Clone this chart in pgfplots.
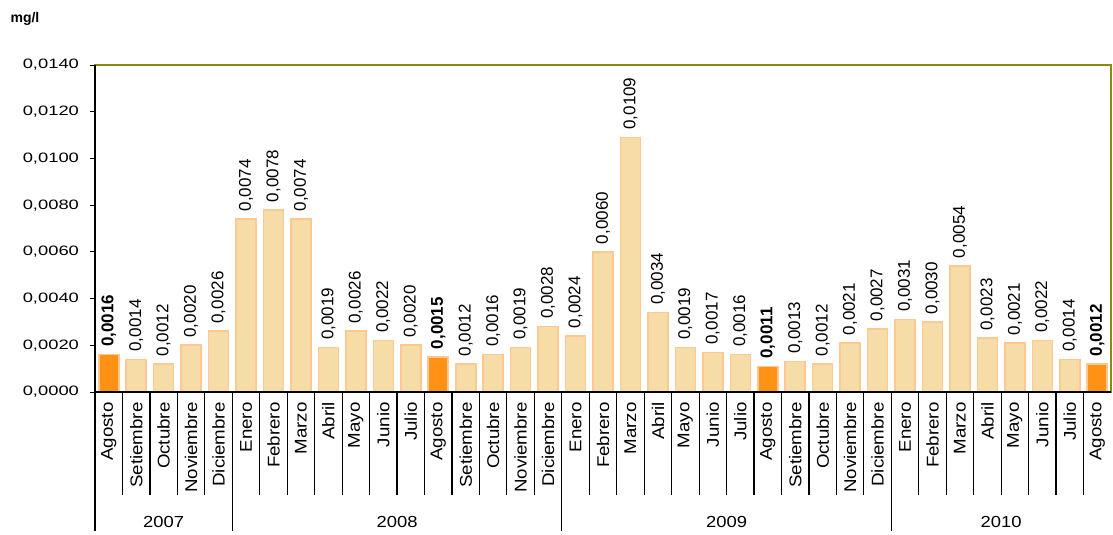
\documentclass[border=0pt]{standalone}
\usepackage{pgfplots}
\pgfplotsset{compat=1.18}
\usepackage{fontspec}
\setmainfont{Liberation Sans}
\newfontfamily\tickfont[FakeStretch=1.35]{Liberation Sans}
\newfontfamily\monthfont[FakeStretch=1.1]{Liberation Sans}
\newfontfamily\yearfont[FakeStretch=1.15]{Liberation Sans}
\definecolor{olivec}{RGB}{140,140,10}
\definecolor{barfill}{RGB}{246,221,168}
\definecolor{baredge}{RGB}{255,200,145}
\definecolor{hifill}{RGB}{255,146,20}

\begin{document}
\begin{tikzpicture}
\begin{axis}[
  scale only axis,
  width=508pt, height=163.5pt,
  ybar, bar width=10pt, bar shift=0pt,
  xmin=-0.5, xmax=36.5,
  ymin=0, ymax=0.014,
  clip=false,
  axis line style={draw=olivec, line width=1pt},
  xtick={0,...,36},
  xticklabels={Agosto,Setiembre,Octubre,Noviembre,Diciembre,
    Enero,Febrero,Marzo,Abril,Mayo,Junio,Julio,Agosto,Setiembre,Octubre,Noviembre,Diciembre,
    Enero,Febrero,Marzo,Abril,Mayo,Junio,Julio,Agosto,Setiembre,Octubre,Noviembre,Diciembre,
    Enero,Febrero,Marzo,Abril,Mayo,Junio,Julio,Agosto},
  xtick style={draw=none},
  xticklabel style={yshift=-2.5pt, rotate=90, anchor=east, inner sep=0pt,
    font=\monthfont\fontsize{8.5}{9}\selectfont},
  ytick={0,0.002,0.004,0.006,0.008,0.010,0.012,0.014},
  xtick pos=bottom, ytick pos=left,
  tick align=outside, major tick length=2.5pt,
  ytick style={black, line width=0.5pt},
  scaled y ticks=false,
  yticklabel style={xshift=-2pt, font=\tickfont\fontsize{6.8}{7}\selectfont,
    /pgf/number format/fixed, /pgf/number format/fixed zerofill,
    /pgf/number format/precision=4, /pgf/number format/use comma,
    /pgf/number format/assume math mode=true},
  nodes near coords={\pgfmathprintnumber[fixed,fixed zerofill,precision=4,use comma,assume math mode=true]{\pgfplotspointmeta}},
  nodes near coords style={rotate=90, anchor=west, inner sep=3.5pt,
    font=\fontsize{8.5}{9}\selectfont},
]
\addplot[fill=barfill, draw=baredge, line width=0.8pt] coordinates {
  (1,0.0014) (2,0.0012) (3,0.0020) (4,0.0026)
  (5,0.0074) (6,0.0078) (7,0.0074) (8,0.0019) (9,0.0026) (10,0.0022) (11,0.0020)
  (13,0.0012) (14,0.0016) (15,0.0019) (16,0.0028)
  (17,0.0024) (18,0.0060) (19,0.0109) (20,0.0034) (21,0.0019) (22,0.0017) (23,0.0016)
  (25,0.0013) (26,0.0012) (27,0.0021) (28,0.0027)
  (29,0.0031) (30,0.0030) (31,0.0054) (32,0.0023) (33,0.0021) (34,0.0022) (35,0.0014)
};
\addplot[fill=hifill, draw=baredge, line width=0.8pt,
  every node near coord/.append style={font=\bfseries\fontsize{8.5}{9}\selectfont}] coordinates {
  (0,0.0016) (12,0.0015) (24,0.0011) (36,0.0012)
};
% left and bottom axis in black
\draw[black, line width=0.7pt] (rel axis cs:0,1) -- (rel axis cs:0,0) -- (rel axis cs:1,0);
% month separators
\pgfplotsinvokeforeach{0.5,1.5,2.5,3.5,5.5,6.5,7.5,8.5,9.5,10.5,11.5,12.5,13.5,14.5,15.5,
  17.5,18.5,19.5,20.5,21.5,22.5,23.5,24.5,25.5,26.5,27.5,29.5,30.5,31.5,32.5,33.5,34.5,35.5}{
  \draw[black, line width=0.6pt] (axis cs:#1,0) -- ++(0pt,-51.5pt);
}
% year separators
\pgfplotsinvokeforeach{-0.5,4.5,16.5,28.5}{
  \draw[black, line width=0.6pt] (axis cs:#1,0) -- ++(0pt,-69.5pt);
}
\node[font=\yearfont\fontsize{8}{9}\selectfont, yshift=-65pt] at (axis cs:2,0) {2007};
\node[font=\yearfont\fontsize{8}{9}\selectfont, yshift=-65pt] at (axis cs:10.5,0) {2008};
\node[font=\yearfont\fontsize{8}{9}\selectfont, yshift=-65pt] at (axis cs:22.5,0) {2009};
\node[font=\yearfont\fontsize{8}{9}\selectfont, yshift=-65pt] at (axis cs:32.5,0) {2010};
\node[font=\bfseries\fontsize{7}{8}\selectfont, xshift=-35pt, yshift=23pt] at (rel axis cs:0,1) {mg/l};
% page frame
\path (rel axis cs:0,0) ++(-47.5pt,-69.5pt) -- ++(556.5pt,265.5pt);
\end{axis}
\end{tikzpicture}
\end{document}
